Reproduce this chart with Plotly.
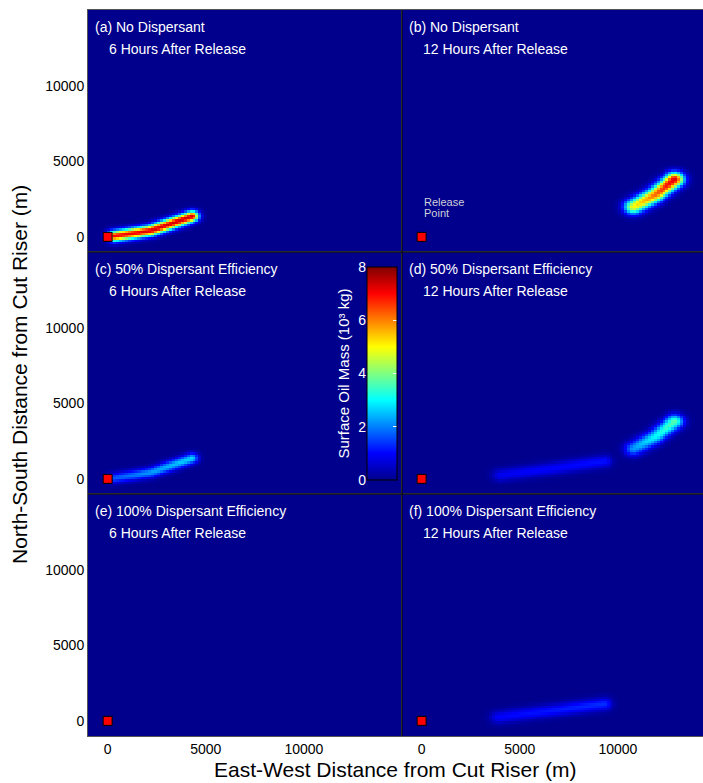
import numpy as np
import plotly.graph_objects as go

# ---------------- data ----------------
PANEL_LABELS = ["(a) No Dispersant", "(b) No Dispersant",
                "(c) 50% Dispersant Efficiency", "(d) 50% Dispersant Efficiency",
                "(e) 100% Dispersant Efficiency", "(f) 100% Dispersant Efficiency"]
PANEL_TIMES = ["6 Hours After Release", "12 Hours After Release"] * 3

# plume centre-line knots (m) and surface oil mass along them (10^3 kg)
A_X = [350, 2200, 4300];      A_Y = [60, 420, 1380];     A_M = [7.0, 7.3, 7.4]
B_X = [10800, 11900, 12900];  B_Y = [2000, 2800, 3800];  B_M = [5.0, 6.2, 7.3]
C_X = [350, 2200, 4300];      C_Y = [60, 420, 1380];     C_M = [1.7, 2.2, 2.7]
D1_X = [4000, 6400, 9300];    D1_Y = [250, 650, 1180];   D1_M = [0.9, 1.0, 1.1]
D2_X = [10800, 11900, 12900]; D2_Y = [2000, 2800, 3800]; D2_M = [2.2, 3.0, 3.7]
F_X = [3900, 6400, 9300];     F_Y = [250, 650, 1130];    F_M = [1.0, 1.15, 1.35]
PLUME_SPREAD = [250, 330, 240, 290, 320, 290]   # m, per plume in order below

RELEASE_X = [0]
RELEASE_Y = [0]
TICKS = [0, 5000, 10000]
TICK_TEXT = ["0", "5000", "10000"]
CBAR_TICKS = [0, 2, 4, 6, 8]

PANEL_PLUMES = {
    1: [(A_X, A_Y, A_M, PLUME_SPREAD[0])],
    2: [(B_X, B_Y, B_M, PLUME_SPREAD[1])],
    3: [(C_X, C_Y, C_M, PLUME_SPREAD[2])],
    4: [(D1_X, D1_Y, D1_M, PLUME_SPREAD[3]), (D2_X, D2_Y, D2_M, PLUME_SPREAD[4])],
    5: [],
    6: [(F_X, F_Y, F_M, PLUME_SPREAD[5])],
}

# ---------------- grid rendering of the plumes ----------------
gx = np.arange(-1000, 15001, 150)
gy = np.arange(-1000, 15001, 150)
GX, GY = np.meshgrid(gx, gy)


def plume_field(plumes):
    Z = np.zeros_like(GX, dtype=float)
    for xs, ys, ms, s in plumes:
        for i in range(len(xs) - 1):
            ax, ay, bx, by = xs[i], ys[i], xs[i + 1], ys[i + 1]
            dx, dy = bx - ax, by - ay
            L2 = dx * dx + dy * dy
            t = np.clip(((GX - ax) * dx + (GY - ay) * dy) / L2, 0, 1)
            d2 = (GX - (ax + t * dx)) ** 2 + (GY - (ay + t * dy)) ** 2
            m = ms[i] + t * (ms[i + 1] - ms[i])
            Z = np.maximum(Z, m * np.exp(-d2 / (2 * s * s)))
    return Z


JET = [[0.0, "rgb(0,0,140)"], [0.125, "rgb(0,0,255)"], [0.375, "rgb(0,255,255)"],
       [0.625, "rgb(255,255,0)"], [0.875, "rgb(255,0,0)"], [1.0, "rgb(128,0,0)"]]

W, H = 703, 783
ML, MT, MB = 88, 10, 47
PW, PH = W - ML, H - MT - MB     # 615 x 726


def px(xp):
    return (xp - ML) / PW


def py(yp):
    return (MT + PH - yp) / PH


fig = go.Figure()
FONT = "Liberation Sans, Arial, sans-serif"

col_split = 314 / PW
for i in range(1, 7):
    row, col = (i - 1) // 2, (i - 1) % 2
    sfx = "" if i == 1 else str(i)
    fig.add_trace(go.Heatmap(x=gx, y=gy, z=plume_field(PANEL_PLUMES[i]),
                             coloraxis="coloraxis", xaxis="x" + sfx, yaxis="y" + sfx,
                             hoverinfo="skip"))
    fig.add_trace(go.Scatter(x=RELEASE_X, y=RELEASE_Y, mode="markers",
                             marker=dict(symbol="square", size=9, color="red",
                                         line=dict(color="black", width=1)),
                             xaxis="x" + sfx, yaxis="y" + sfx, showlegend=False,
                             hoverinfo="skip"))
    xdom = [0, col_split] if col == 0 else [col_split, 1]
    ydom = [[2 / 3, 1], [1 / 3, 2 / 3], [0, 1 / 3]][row]
    xr = [-1000, 15000] if col == 0 else [-1000, -1000 + 301 / 314 * 16000]
    fig.layout["xaxis" + sfx] = dict(
        domain=xdom, range=xr, anchor="y" + sfx, tickvals=TICKS, ticktext=TICK_TEXT,
        showticklabels=(row == 2), showgrid=False, zeroline=False, ticks="",
        showline=True, mirror=True, linecolor="#555", linewidth=1,
        tickfont=dict(family=FONT, size=14, color="black"))
    fig.layout["yaxis" + sfx] = dict(
        domain=ydom, range=[-1000, 15000], anchor="x" + sfx, tickvals=TICKS,
        ticktext=TICK_TEXT,
        showticklabels=(col == 0), showgrid=False, zeroline=False, ticks="",
        showline=True, mirror=True, linecolor="#555", linewidth=1,
        tickfont=dict(family=FONT, size=14, color="black"))

    # panel texts
    top = MT + row * 242
    left = ML + col * 314
    fig.add_annotation(xref="paper", yref="paper", x=px(left + 5), y=py(top + 17),
                       text=PANEL_LABELS[i - 1], showarrow=False, xanchor="left",
                       yanchor="middle", font=dict(family=FONT, size=14, color="white"))
    fig.add_annotation(xref="paper", yref="paper", x=px(left + 19), y=py(top + 39),
                       text=PANEL_TIMES[i - 1], showarrow=False, xanchor="left",
                       yanchor="middle", font=dict(family=FONT, size=14, color="white"))

# panel separators (drawn on top)
fig.add_shape(type="line", xref="paper", yref="paper", x0=col_split, x1=col_split,
              y0=0, y1=1, line=dict(color="black", width=1), layer="above")
for yy in (1 / 3, 2 / 3):
    fig.add_shape(type="line", xref="paper", yref="paper", x0=0, x1=1, y0=yy, y1=yy,
                  line=dict(color="black", width=1), layer="above")

# release point label
for txt, yv in (("Release", 2320), ("Point", 1590)):
    fig.add_annotation(xref="x2", yref="y2", x=0, y=yv, text=txt, showarrow=False,
                       xanchor="left", yanchor="middle",
                       font=dict(family=FONT, size=11, color="#d0d0d8"))

# colour bar
cb_top, cb_bot, cb_left = 267, 480, 367
fig.update_layout(coloraxis=dict(
    colorscale=JET, cmin=0, cmax=8,
    colorbar=dict(x=px(cb_left), xanchor="left", y=py((cb_top + cb_bot) / 2),
                  yanchor="middle", len=(cb_bot - cb_top) / PH, lenmode="fraction",
                  thickness=30, thicknessmode="pixels", xpad=0, ypad=0,
                  outlinecolor="black", outlinewidth=1, tickvals=[2, 4, 6],
                  ticks="inside", ticklen=4, tickcolor="white",
                  showticklabels=False, title=dict(text=""))))

# axis carrying the colour-bar labels
fig.add_trace(go.Scatter(x=[None], y=[None], xaxis="x7", yaxis="y7",
                         showlegend=False, hoverinfo="skip"))
fig.layout["xaxis7"] = dict(domain=[px(cb_left), px(cb_left + 30)], range=[0, 1],
                            anchor="y7", visible=False)
fig.layout["yaxis7"] = dict(domain=[py(cb_bot), py(cb_top)], range=[0, 8], anchor="x7",
                            tickvals=CBAR_TICKS, showgrid=False, zeroline=False,
                            showline=False, ticks="",
                            tickfont=dict(family=FONT, size=14, color="white"),
                            title=dict(text="Surface Oil Mass (10³ kg)", standoff=4,
                                       font=dict(family=FONT, size=15, color="white")))

# axis titles
fig.add_annotation(xref="paper", yref="paper", x=px(395), y=py(770),
                   text="East-West Distance from Cut Riser (m)", showarrow=False,
                   xanchor="center", yanchor="middle",
                   font=dict(family=FONT, size=21, color="black"))
fig.add_annotation(xref="paper", yref="paper", x=px(20), y=py(375),
                   text="North-South Distance from Cut Riser (m)", showarrow=False,
                   textangle=-90, xanchor="center", yanchor="middle",
                   font=dict(family=FONT, size=21, color="black"))

fig.update_layout(width=W, height=H,
                  margin=dict(l=ML, r=0, t=MT, b=MB, autoexpand=False),
                  paper_bgcolor="white", plot_bgcolor="rgb(0,0,140)",
                  showlegend=False)

fig.write_html("out.html", config={"displayModeBar": False},
               post_script="document.body.style.margin='0';"
                           "document.body.style.padding='0';")
